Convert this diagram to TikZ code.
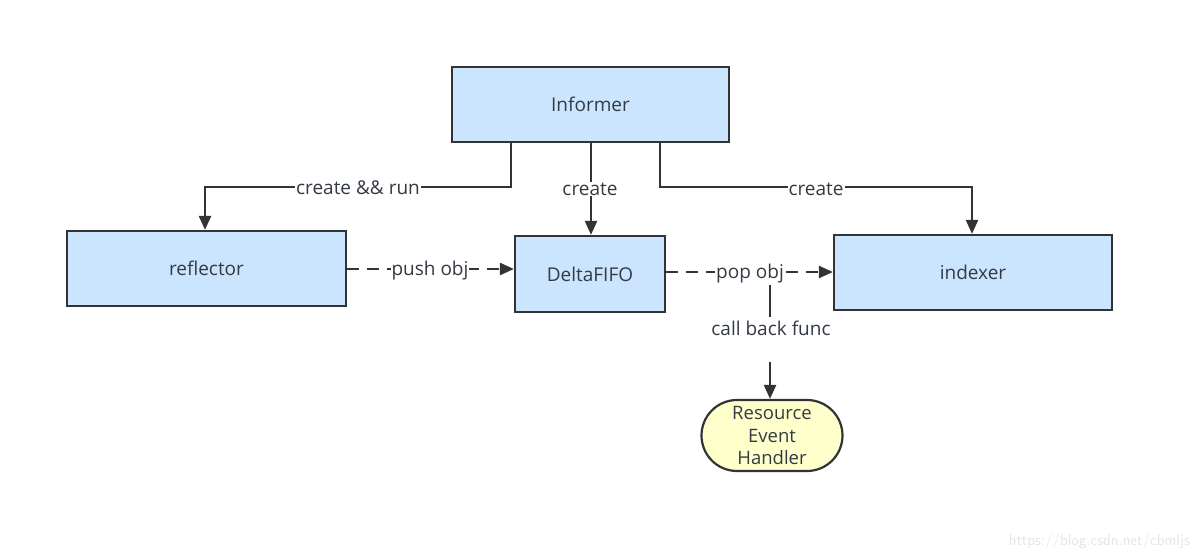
\documentclass[tikz,border=0pt]{standalone}
\usepackage{fontspec}
\setmainfont{Open Sans}
\usetikzlibrary{arrows.meta,shapes.misc}
\definecolor{boxblue}{HTML}{CCE5FF}
\definecolor{boxyellow}{HTML}{FFFFCC}
\definecolor{ink}{HTML}{333333}
\definecolor{txt}{HTML}{333A44}
\begin{document}
\begin{tikzpicture}[x=1pt,y=-1pt,
  every node/.style={font=\fontsize{19}{22}\selectfont, text=txt},
  bluebox/.style={draw=ink, line width=2.2pt, fill=boxblue, rectangle, inner sep=0pt},
  handler/.style={draw=ink, line width=2.2pt, fill=boxyellow, rounded rectangle, inner sep=0pt, align=center, font=\fontsize{18.5}{22.5}\selectfont},
  conn/.style={draw=ink, line width=2.4pt, -{Triangle[length=14pt,width=12pt]}},
  dconn/.style={conn, dash pattern=on 12pt off 8pt},
  lbl/.style={fill=white, inner sep=1pt, font=\fontsize{19}{22}\selectfont}]
\useasboundingbox (0,0) rectangle (1200,559);
\node[bluebox, minimum width=277pt, minimum height=75pt] (inf) at (590.5,104.5) {Informer};
\node[bluebox, minimum width=279pt, minimum height=75pt] (ref) at (206.5,268.5) {reflector};
\node[bluebox, minimum width=150pt, minimum height=76pt] (fifo) at (590,274) {DeltaFIFO};
\node[bluebox, minimum width=278pt, minimum height=75pt] (idx) at (973,272.5) {indexer};
\node[handler, minimum width=141pt, minimum height=71pt] (h) at (772,435.5) {Resource\\Event\\Handler};

\draw[conn] (inf.south -| 511,0) |- (205,187) -- (ref.north -| 205,0);
\node[lbl] at (358,188) {create \&\& run};
\draw[conn] (inf.south -| 591,0) -- (fifo.north -| 591,0);
\node[lbl] at (590,189) {create};
\draw[conn] (inf.south -| 660,0) |- (972,187) -- (idx.north -| 972,0);
\node[lbl] at (816,189) {create};

\draw[dconn] (ref.east |- 0,269) -- (fifo.west |- 0,269);
\node[lbl] at (430,271) {push obj};
\coordinate (j) at (770,272);
\draw[dconn] (fifo.east |- 0,272) -- (idx.west |- 0,272);
\draw[dconn, dash pattern=on 45pt off 45pt on 200pt] (j) -- (h.north -| j);
\node[lbl] at (750,274) {pop obj};
\node[lbl] at (771,328) {call back func};

\node[text=black!10, font=\sffamily\fontsize{16}{19}\selectfont, anchor=east, inner sep=0pt] (wm) at (1190,541) {https://blog.csdn.net/cbmljs};
\end{tikzpicture}
\end{document}
